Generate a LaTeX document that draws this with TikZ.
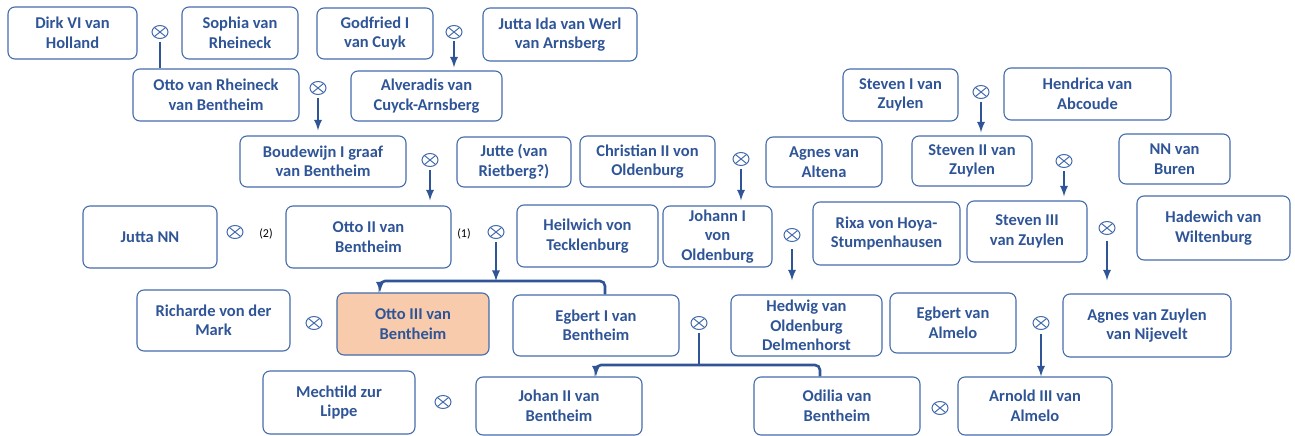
\documentclass[tikz,border=0pt]{standalone}
\usepackage{fontspec}
\setmainfont{Carlito}
\usetikzlibrary{arrows, calc, shapes.geometric}
\definecolor{tblue}{RGB}{47,85,151}
\definecolor{bblue}{RGB}{68,108,172}
\definecolor{peach}{RGB}{248,203,173}

\begin{document}
\begin{tikzpicture}[x=1pt, y=-1pt,
  person/.style = {shape=rectangle, rounded corners=7pt, draw=bblue, line width=1.1pt,
    align=center, text=tblue, inner sep=2pt, font=\bfseries\fontsize{16.5}{19.5}\selectfont},
  sz/.style 2 args = {minimum width=#1pt, minimum height=#2pt},
  wed/.style = {ellipse, draw=bblue, line width=1pt, minimum width=16pt, minimum height=13pt,
    inner sep=0pt, path picture={\draw[bblue, line width=1pt]
      (path picture bounding box.north west) -- (path picture bounding box.south east)
      (path picture bounding box.north east) -- (path picture bounding box.south west);}},
  link/.style = {draw=tblue, line width=2.6pt},
  num/.style = {font=\fontsize{12}{14}\selectfont}]

  \useasboundingbox (0,0) rectangle (1295,436);

  \node[person, sz={129}{52}] (dirk) at (72.5,33) {Dirk VI van\\Holland};
  \node[person, sz={116}{52}] (soph) at (240,33) {Sophia van\\Rheineck};
  \node[person, sz={116}{51}] (godf) at (375,33.5) {Godfried I\\van Cuyk};
  \node[person, sz={154}{53}] (jida) at (560,34.5) {Jutta Ida van Werl\\van Arnsberg};
  \node[person, sz={166}{52}] (orh) at (216,95) {Otto van Rheineck\\van Bentheim};
  \node[person, sz={151}{50}] (alv) at (426.5,96) {Alveradis van\\Cuyck-Arnsberg};
  \node[person, sz={115}{52}] (stv1) at (900.5,95) {Steven I van\\Zuylen};
  \node[person, sz={167}{52}] (hend) at (1087.5,94) {Hendrica van\\Abcoude};
  \node[person, sz={166}{51}] (boud) at (323,161.5) {Boudewijn I graaf\\van Bentheim};
  \node[person, sz={114}{50}] (jutte) at (514,162) {Jutte (van\\Rietberg?)};
  \node[person, sz={135}{51}] (chr) at (647.5,161.5) {Christian II von\\Oldenburg};
  \node[person, sz={116}{50}] (agal) at (824,162) {Agnes van\\Altena};
  \node[person, sz={120}{50}] (stv2) at (972,161) {Steven II van\\Zuylen};
  \node[person, sz={111}{50}] (nnb) at (1174.5,159) {NN van\\Buren};
  \node[person, sz={134}{62}] (jnn) at (150,237) {Jutta NN};
  \node[person, sz={165}{62}] (ott2) at (368.5,237) {Otto II van\\Bentheim};
  \node[person, sz={141}{62}] (heil) at (587.5,236) {Heilwich von\\Tecklenburg};
  \node[person, sz={109}{61}] (joh1) at (717.5,236.5) {Johann I\\von\\Oldenburg};
  \node[person, sz={147}{63}] (rixa) at (886.5,233.5) {Rixa von Hoya-\\Stumpenhausen};
  \node[person, sz={120}{61}] (stv3) at (1027,231.5) {Steven III\\van Zuylen};
  \node[person, sz={153}{64}] (hadw) at (1213.5,228) {Hadewich van\\Wiltenburg};
  \node[person, sz={153}{61}] (rich) at (213.5,320.5) {Richarde von der\\Mark};
  \node[person, sz={152}{62}, fill=peach] (ott3) at (413,324) {Otto III van\\Bentheim};
  \node[person, sz={166}{61}] (eg1) at (596,325.5) {Egbert I van\\Bentheim};
  \node[person, sz={151}{61}] (hedw) at (806.5,325.5) {Hedwig van\\Oldenburg\\Delmenhorst};
  \node[person, sz={126}{60}] (egal) at (953,323) {Egbert van\\Almelo};
  \node[person, sz={168}{63}] (agzn) at (1147,325.5) {Agnes van Zuylen\\van Nijevelt};
  \node[person, sz={152}{63}] (mech) at (339,402.5) {Mechtild zur\\Lippe};
  \node[person, sz={166}{58}] (joh2) at (559,406) {Johan II van\\Bentheim};
  \node[person, sz={166}{58}] (odil) at (837,406) {Odilia van\\Bentheim};
  \node[person, sz={154}{58}] (arn3) at (1035,406) {Arnold III van\\Almelo};

  \node[wed] (w1) at (160,32) {};
  \node[wed] (w2) at (454,32) {};
  \node[wed] (w3) at (318,88) {};
  \node[wed] (w4) at (981,92) {};
  \node[wed] (w5) at (430,160) {};
  \node[wed] (w6) at (741,159) {};
  \node[wed] (w7) at (1064,161) {};
  \node[wed] (w8) at (235,232) {};
  \node[wed] (w9) at (496,232) {};
  \node[wed] (w10) at (792,235) {};
  \node[wed] (w11) at (1107,228) {};
  \node[wed] (w12) at (314,323) {};
  \node[wed] (w13) at (699,323) {};
  \node[wed] (w14) at (1041,323) {};
  \node[wed] (w15) at (443,402) {};
  \node[wed] (w16) at (940,408) {};

  \node[num] (n2) at (266,234) {(2)};
  \node[num] (n1) at (464,234) {(1)};

  \coordinate (j1) at (496,281);
  \coordinate (j2) at (699,365);

  \draw[link, shorten <=3pt] (w1.south) -- (w1 |- orh.north);
  \draw[link, -latex, shorten <=2pt, shorten >=3pt] (w2.south) -- (w2 |- alv.north);
  \draw[link, -latex, shorten <=3pt, shorten >=5pt] (w3.south) -- (w3 |- boud.north);
  \draw[link, -latex, shorten <=3pt, shorten >=3pt] (w4.south) -- (w4 |- stv2.north);
  \draw[link, -latex, shorten <=3pt, shorten >=5pt] (w5.south) -- (w5 |- ott2.north);
  \draw[link, -latex, shorten <=3pt, shorten >=5pt] (w6.south) -- (w6 |- joh1.north);
  \draw[link, -latex, shorten <=3pt, shorten >=4pt] (w7.south) -- (w7 |- stv3.north);
  \draw[link, -latex, shorten <=3pt] (w9.south) -- (j1);
  \draw[link, -latex, shorten <=7pt, shorten >=14pt] (w10.south) -- (w10 |- hedw.north);
  \draw[link, -latex, shorten <=6pt, shorten >=13pt] (w11.south) -- (w11 |- agzn.north);
  \draw[link, shorten <=3pt] (w13.south) -- (j2);
  \draw[link, -latex, shorten <=4pt] (w14.south) -- (w14 |- arn3.north);

  \draw[link, rounded corners=5pt, -latex] ([xshift=9pt]eg1.north) |- (j1) -| ([xshift=-33pt]ott3.north);
  \draw[link, rounded corners=5pt, -latex] ([xshift=-17pt]odil.north) |- (j2) -| ([xshift=37pt]joh2.north);
\end{tikzpicture}
\end{document}
